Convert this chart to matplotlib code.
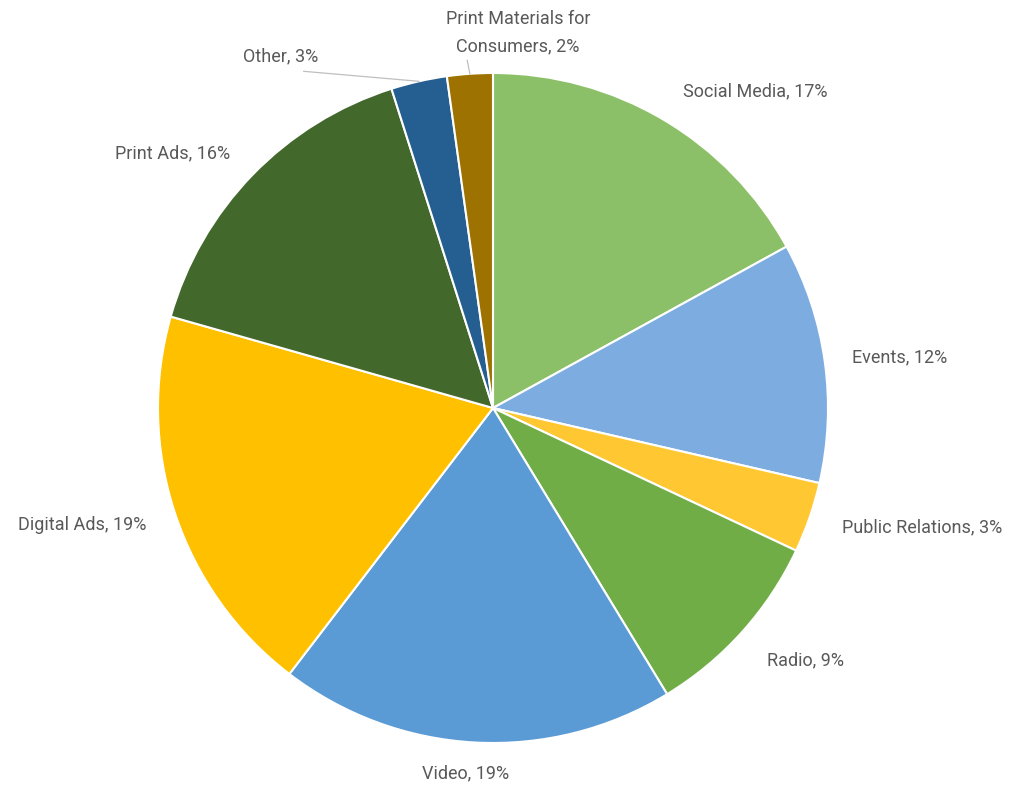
import matplotlib
matplotlib.use("Agg")
import matplotlib.pyplot as plt
import numpy as np

plt.rcParams['font.family'] = ['Roboto', 'DejaVu Sans']

categories = ["Social Media", "Events", "Public Relations", "Radio", "Video",
              "Digital Ads", "Print Ads", "Other", "Print Materials for\nConsumers"]
values = [17.0, 11.6, 3.4, 9.3, 19.1, 19.0, 15.7, 2.7, 2.2]
pct_labels = [17, 12, 3, 9, 19, 19, 16, 3, 2]
colors = ["#8CC068", "#7DADE0", "#FFC732", "#70AD47", "#5B9BD5",
          "#FFC000", "#43682B", "#255E91", "#9E7200"]

# label placement (layout, in units of pie radius)
label_pos = [(0.782, 0.945), (1.215, 0.152), (1.281, -0.355), (0.934, -0.752),
             (-0.081, -1.090), (-1.227, -0.349), (-0.958, 0.761), (-0.633, 1.051),
             (0.075, 1.120)]

W, H = 1015, 789
fig = plt.figure(figsize=(W / 100, H / 100), dpi=100)
cx, cy, R = 493, 408, 335
ax = fig.add_axes([(cx - R) / W, (H - cy - R) / H, 2 * R / W, 2 * R / H])

wedges, _ = ax.pie(values, colors=colors, startangle=90, counterclock=False,
                   radius=1.0, wedgeprops=dict(edgecolor='white', linewidth=1.5))
ax.set_xlim(-1, 1)
ax.set_ylim(-1, 1)
ax.set_aspect('equal')
ax.axis('off')

for i, (w, cat, p) in enumerate(zip(wedges, categories, pct_labels)):
    tx, ty = label_pos[i]
    ax.text(tx, ty, f"{cat}, {p}%", ha='center', va='center', fontsize=13,
            color='#595959', linespacing=1.7, clip_on=False)

# leader lines for small slices
for i, start in [(7, (-0.565, 1.005)), (8, (-0.077, 1.038))]:
    w = wedges[i]
    mid = np.deg2rad((w.theta1 + w.theta2) / 2)
    ex, ey = np.cos(mid), np.sin(mid)
    ax.plot([start[0], ex], [start[1], ey], color='#BFBFBF', lw=0.9, clip_on=False)

fig.savefig("out.png", dpi=100, facecolor='white')
